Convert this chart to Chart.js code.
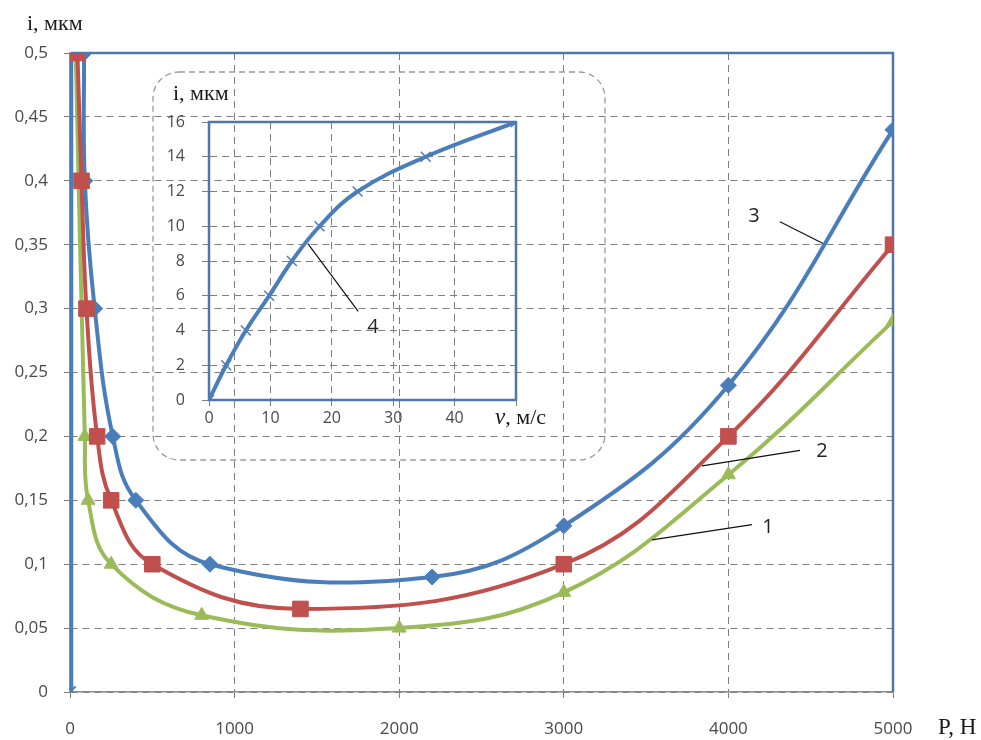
<!DOCTYPE html>
<html lang="ru">
<head>
<meta charset="UTF-8">
<title>Интенсивность изнашивания</title>
<script src="https://cdn.jsdelivr.net/npm/chart.js"></script>
<style>
  body { margin: 0; background: #fff; }
  #wrap { position: relative; width: 981px; height: 740px; }
  #mainChart { position: absolute; left: 0; top: 0; }
  #insetChart { position: absolute; left: 150px; top: 70px; }
</style>
</head>
<body>
<div id="wrap">
  <canvas id="mainChart" width="981" height="740"></canvas>
  <canvas id="insetChart" width="460" height="392"></canvas>
</div>
<script>
// кривые 1-3: нагрузка P, Н -> i, мкм
const loadP1 = [35, 90, 110, 250, 800, 2000, 3000, 4000, 5000];
const wear1 = [0.5, 0.2, 0.15, 0.1, 0.06, 0.05, 0.078, 0.17, 0.29];

const loadP2 = [45, 70, 100, 165, 250, 500, 1400, 3000, 4000, 5000];
const wear2 = [0.5, 0.4, 0.3, 0.2, 0.15, 0.1, 0.065, 0.1, 0.2, 0.35];

const loadP3 = [85, 90, 150, 260, 400, 850, 2200, 3000, 4000, 5000];
const wear3 = [0.5, 0.4, 0.3, 0.2, 0.15, 0.1, 0.09, 0.13, 0.24, 0.44];

// кривая 4 (врезка): скорость v, м/с -> i, мкм
const speedV = [0, 2.8, 6, 9.8, 13.5, 18, 24.2, 35.3, 50];
const wear4 = [0, 2, 4, 6, 8, 10, 12, 14, 16];

// выноски с номерами кривых (в единицах осей)
const mainNotes = [
  { text: '3', at: [4155, 0.372], from: [4313, 0.368], to: [4575, 0.351] },
  { text: '2', at: [4569, 0.188], from: [4435, 0.189], to: [3840, 0.177] },
  { text: '1', at: [4240, 0.129], from: [4143, 0.131], to: [3536, 0.119] }
];
const insetNotes = [
  { text: '4', at: [26.7, 4.2], from: [24.3, 5.1], to: [16.1, 9.0] }
];

const BLUE = '#4a7ebb';
const RED = '#c0504d';
const GREEN = '#9bbb59';
const FRAME = '#4f77aa';
const GRID = '#7f7f7f';

Chart.defaults.font.family = "'Open Sans', sans-serif";
Chart.defaults.color = '#4a4a4a';

function toXY(xs, ys) {
  return xs.map((x, i) => ({ x: x, y: ys[i] }));
}

function comma(v) {
  return (Math.round(v * 100) / 100).toString().replace('.', ',');
}

function drawNotes(chart, notes) {
  const { ctx, scales } = chart;
  ctx.save();
  ctx.strokeStyle = '#111';
  ctx.lineWidth = 1.2;
  ctx.fillStyle = '#222';
  ctx.font = "20px 'Open Sans', sans-serif";
  ctx.textAlign = 'center';
  ctx.textBaseline = 'middle';
  notes.forEach(n => {
    ctx.beginPath();
    ctx.moveTo(scales.x.getPixelForValue(n.from[0]), scales.y.getPixelForValue(n.from[1]));
    ctx.lineTo(scales.x.getPixelForValue(n.to[0]), scales.y.getPixelForValue(n.to[1]));
    ctx.stroke();
    ctx.fillText(n.text, scales.x.getPixelForValue(n.at[0]), scales.y.getPixelForValue(n.at[1]));
  });
  ctx.restore();
}

const mainDecor = {
  id: 'mainDecor',
  beforeDatasetsDraw(chart) {
    const { ctx, chartArea: a } = chart;
    ctx.save();
    ctx.strokeStyle = FRAME;
    ctx.lineWidth = 2.5;
    ctx.beginPath();
    ctx.moveTo(a.left + 2, a.bottom);
    ctx.lineTo(a.left + 2, a.top);
    ctx.lineTo(a.right, a.top);
    ctx.lineTo(a.right, a.bottom);
    ctx.stroke();
    ctx.restore();
  },
  afterDraw(chart) {
    const ctx = chart.ctx;
    ctx.save();
    ctx.fillStyle = '#1a1a1a';
    ctx.font = "22px 'Liberation Serif', serif";
    ctx.textBaseline = 'alphabetic';
    ctx.fillText('i, мкм', 27, 30);
    ctx.font = "23px 'Liberation Serif', serif";
    ctx.fillText('P, Н', 938, 734);
    ctx.restore();
    drawNotes(chart, mainNotes);
  }
};

const mainLine = {
  borderWidth: 4,
  tension: 0.4,
  pointBorderWidth: 1
};

new Chart(document.getElementById('mainChart'), {
  type: 'line',
  data: {
    datasets: [
      Object.assign({
        label: '2',
        data: toXY(loadP2, wear2),
        borderColor: RED, backgroundColor: RED,
        pointStyle: 'rect', pointRadius: 11
      }, mainLine),
      Object.assign({
        label: '3',
        data: toXY(loadP3, wear3),
        borderColor: BLUE, backgroundColor: BLUE,
        pointStyle: 'rectRot', pointRadius: 8
      }, mainLine),
      Object.assign({
        label: '1',
        data: toXY(loadP1, wear1),
        borderColor: GREEN, backgroundColor: GREEN,
        pointStyle: 'triangle', pointRadius: 8
      }, mainLine),
      Object.assign({
        label: '4',
        data: toXY(speedV, wear4),
        borderColor: BLUE, backgroundColor: BLUE,
        pointStyle: 'crossRot', pointRadius: 8
      }, mainLine, { pointBorderWidth: 2, tension: 0 })
    ]
  },
  options: {
    responsive: false,
    animation: false,
    layout: { padding: { left: 0, top: 53, right: 88, bottom: 0 } },
    plugins: { legend: { display: false }, tooltip: { enabled: false } },
    scales: {
      x: {
        type: 'linear',
        min: 0, max: 5000,
        afterFit: s => { s.height = 48; },
        ticks: { stepSize: 1000, padding: 21, font: { size: 17 }, color: '#4a4a4a', callback: v => String(v) },
        grid: { color: GRID, lineWidth: 1, tickLength: 6, tickBorderDash: [] },
        border: { color: '#8a8a8a', width: 1.5, dash: [7, 5] }
      },
      y: {
        type: 'linear',
        min: 0, max: 0.5,
        afterFit: s => { s.width = 70; },
        ticks: { stepSize: 0.05, padding: 16, font: { size: 17 }, color: '#4a4a4a', callback: v => comma(v) },
        grid: { color: GRID, lineWidth: 1, tickLength: 6, tickBorderDash: [] },
        border: { color: '#8a8a8a', width: 1.5, dash: [7, 5] }
      }
    }
  },
  plugins: [mainDecor]
});

const insetDecor = {
  id: 'insetDecor',
  beforeDraw(chart) {
    const ctx = chart.ctx;
    ctx.save();
    ctx.strokeStyle = '#9a9a9a';
    ctx.lineWidth = 1.3;
    ctx.setLineDash([6, 4]);
    ctx.beginPath();
    ctx.roundRect(3, 2, 452, 388, 26);
    ctx.stroke();
    ctx.restore();
  },
  beforeDatasetsDraw(chart) {
    const { ctx, chartArea: a } = chart;
    ctx.save();
    ctx.strokeStyle = FRAME;
    ctx.lineWidth = 2.5;
    ctx.strokeRect(a.left, a.top, a.right - a.left, a.bottom - a.top);
    ctx.restore();
  },
  afterDraw(chart) {
    const ctx = chart.ctx;
    ctx.save();
    ctx.fillStyle = '#1a1a1a';
    ctx.textBaseline = 'alphabetic';
    ctx.font = "22px 'Liberation Serif', serif";
    ctx.fillText('i, мкм', 23, 30);
    ctx.font = "italic 23px 'Liberation Serif', serif";
    ctx.fillText('v', 345, 354);
    const w = ctx.measureText('v').width;
    ctx.font = "22px 'Liberation Serif', serif";
    ctx.fillText(', м/с', 345 + w, 354);
    ctx.restore();
    drawNotes(chart, insetNotes);
  }
};

new Chart(document.getElementById('insetChart'), {
  type: 'line',
  data: {
    datasets: [{
      label: '4',
      data: toXY(speedV, wear4),
      borderColor: BLUE, backgroundColor: BLUE,
      borderWidth: 4,
      tension: 0.4,
      pointStyle: 'crossRot', pointRadius: 7, pointBorderWidth: 1.5
    }]
  },
  options: {
    responsive: false,
    animation: false,
    layout: { padding: { left: 0, top: 52, right: 94, bottom: 0 } },
    plugins: { legend: { display: false }, tooltip: { enabled: false } },
    scales: {
      x: {
        type: 'linear',
        min: 0, max: 50,
        afterFit: s => { s.height = 62; },
        ticks: { stepSize: 10, padding: 2, font: { size: 16 }, color: '#4a4a4a', callback: v => (v === 50 ? '' : v) },
        grid: { color: GRID, lineWidth: 1, tickLength: 7, tickBorderDash: [5, 4] },
        border: { color: FRAME, width: 2, dash: [7, 5] }
      },
      y: {
        type: 'linear',
        min: 0, max: 16,
        afterFit: s => { s.width = 59; },
        ticks: { stepSize: 2, padding: 17, font: { size: 16 }, color: '#4a4a4a' },
        grid: { color: GRID, lineWidth: 1, tickLength: 7, tickBorderDash: [] },
        border: { color: FRAME, width: 2, dash: [7, 5] }
      }
    }
  },
  plugins: [insetDecor]
});
</script>
</body>
</html>
